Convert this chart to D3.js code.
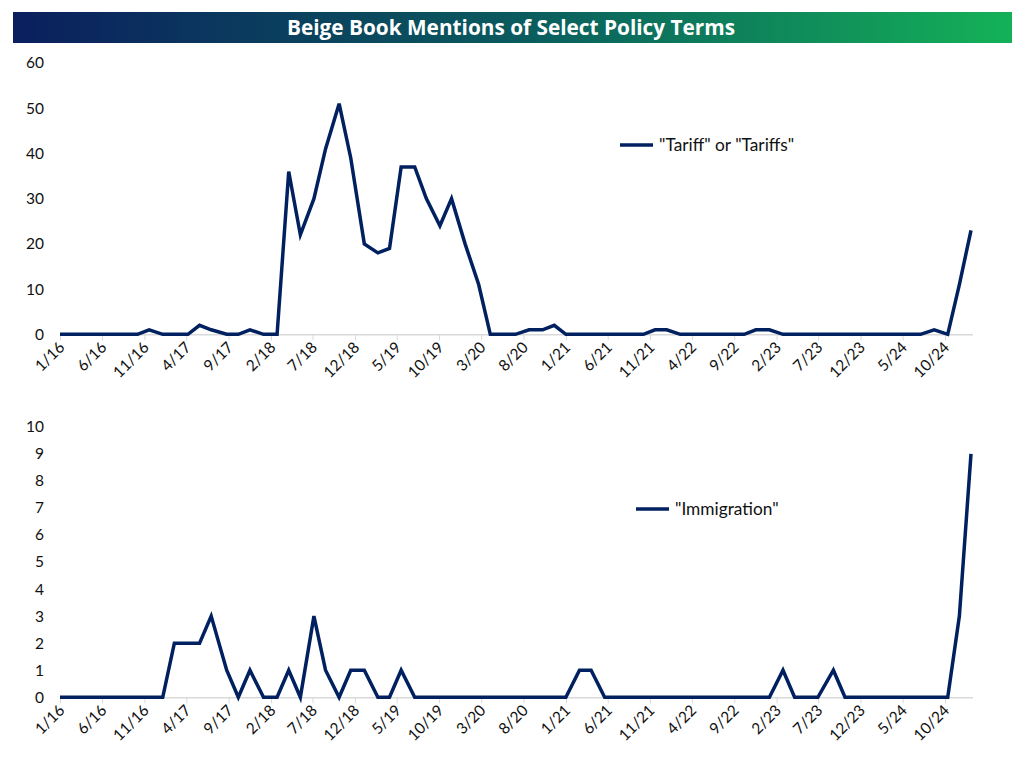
<!DOCTYPE html>
<html>
<head>
<meta charset="utf-8">
<script src="https://cdn.jsdelivr.net/npm/d3@7"></script>
<style>
  html, body { margin: 0; padding: 0; background: #fff; }
  svg { display: block; }
  text { font-family: Lato, "Open Sans", sans-serif; fill: #111; }
</style>
</head>
<body>
<div id="chart"></div>
<script>
// Beige Book release dates (Jan 2016 - Jan 2025)
const releaseDates = [
  "2016-01-13","2016-03-02","2016-04-13","2016-06-01","2016-07-13","2016-08-31","2016-10-19","2016-11-30",
  "2017-01-18","2017-03-01","2017-04-19","2017-05-31","2017-07-12","2017-09-06","2017-10-18","2017-11-29",
  "2018-01-17","2018-03-07","2018-04-18","2018-05-30","2018-07-18","2018-08-29","2018-10-17","2018-11-28",
  "2019-01-16","2019-03-06","2019-04-17","2019-05-29","2019-07-17","2019-08-28","2019-10-16","2019-11-27",
  "2020-01-15","2020-03-04","2020-04-15","2020-05-27","2020-07-15","2020-09-02","2020-10-21","2020-12-02",
  "2021-01-13","2021-03-03","2021-04-14","2021-06-02","2021-07-14","2021-09-08","2021-10-20","2021-12-01",
  "2022-01-12","2022-03-02","2022-04-20","2022-06-01","2022-07-13","2022-09-07","2022-10-19","2022-11-30",
  "2023-01-18","2023-03-08","2023-04-19","2023-05-31","2023-07-12","2023-09-06","2023-10-18","2023-11-29",
  "2024-01-17","2024-03-06","2024-04-17","2024-05-29","2024-07-17","2024-09-04","2024-10-23","2024-12-04",
  "2025-01-15"
];

const tariffMentions = [
  0, 0, 0, 0, 0, 0, 0, 1,
  0, 0, 0, 2, 1, 0, 0, 1,
  0, 0, 36, 22, 30, 41, 51, 39,
  20, 18, 19, 37, 37, 30, 24, 30,
  20, 11, 0, 0, 0, 1, 1, 2,
  0, 0, 0, 0, 0, 0, 0, 1,
  1, 0, 0, 0, 0, 0, 0, 1,
  1, 0, 0, 0, 0, 0, 0, 0,
  0, 0, 0, 0, 0, 1, 0, 11,
  23
];

const immigrationMentions = [
  0, 0, 0, 0, 0, 0, 0, 0,
  0, 2, 2, 2, 3, 1, 0, 1,
  0, 0, 1, 0, 3, 1, 0, 1,
  1, 0, 0, 1, 0, 0, 0, 0,
  0, 0, 0, 0, 0, 0, 0, 0,
  0, 1, 1, 0, 0, 0, 0, 0,
  0, 0, 0, 0, 0, 0, 0, 0,
  0, 1, 0, 0, 0, 1, 0, 0,
  0, 0, 0, 0, 0, 0, 0, 3,
  9
];

const tickLabels = ["1/16","6/16","11/16","4/17","9/17","2/18","7/18","12/18","5/19","10/19","3/20",
  "8/20","1/21","6/21","11/21","4/22","9/22","2/23","7/23","12/23","5/24","10/24"];

const titleText = "Beige Book Mentions of Select Policy Terms";
const tariffLabel = "\"Tariff\" or \"Tariffs\"";
const immigrationLabel = "\"Immigration\"";

const width = 1024, height = 771;
const lineColor = "#002060";

const svg = d3.select("#chart").append("svg")
  .attr("width", width)
  .attr("height", height);

// title banner
const grad = svg.append("defs").append("linearGradient")
  .attr("id", "bannerGrad")
  .attr("x1", "0%").attr("x2", "100%").attr("y1", "0%").attr("y2", "0%");
grad.append("stop").attr("offset", "0%").attr("stop-color", "#0b1f5e");
grad.append("stop").attr("offset", "50%").attr("stop-color", "#0a5a5e");
grad.append("stop").attr("offset", "100%").attr("stop-color", "#14b158");

svg.append("rect")
  .attr("x", 13).attr("y", 12)
  .attr("width", 999).attr("height", 31)
  .attr("fill", "url(#bannerGrad)");

svg.append("text")
  .attr("x", 511).attr("y", 35)
  .attr("text-anchor", "middle")
  .attr("textLength", 448)
  .attr("lengthAdjust", "spacingAndGlyphs")
  .style("font-family", "'Liberation Sans Narrow', 'Open Sans', sans-serif")
  .style("font-size", "21px")
  .style("font-weight", "bold")
  .style("fill", "#fff")
  .text(titleText);

const dates = releaseDates.map(d => d3.timeParse("%Y-%m-%d")(d));
const tickDates = tickLabels.map(t => {
  const [m, y] = t.split("/").map(Number);
  return new Date(2000 + y, m - 1, 13);
});

const x = d3.scaleTime()
  .domain([dates[0], dates[dates.length - 1]])
  .range([60, 971]);

function drawPanel(values, yMax, yStep, y0, y1, legendText, legendX, legendY) {
  const y = d3.scaleLinear().domain([0, yMax]).range([y0, y1]);

  // y tick labels (no axis line)
  const yAxis = svg.append("g")
    .attr("transform", "translate(60,0)")
    .call(d3.axisLeft(y).tickValues(d3.range(0, yMax + 1, yStep)).tickSize(0).tickPadding(16));
  yAxis.select(".domain").remove();
  yAxis.selectAll("text")
    .style("font-family", "Lato, 'Open Sans', sans-serif")
    .style("font-size", "15.5px")
    .style("fill", "#111");

  // x axis
  const xAxis = svg.append("g")
    .attr("transform", `translate(0,${y0})`)
    .call(d3.axisBottom(x).tickValues(tickDates).tickSize(6).tickSizeOuter(0)
      .tickFormat((d, i) => tickLabels[i]));
  xAxis.select(".domain").attr("stroke", "#d9d9d9").attr("stroke-width", 1.5)
    .attr("d", `M60,0.5H973`);
  xAxis.selectAll(".tick line").attr("stroke", "#d9d9d9").attr("stroke-width", 1);
  xAxis.selectAll("text")
    .attr("text-anchor", "end")
    .attr("dy", null)
    .attr("y", 0)
    .attr("transform", "translate(5,14) rotate(-45)")
    .style("font-family", "Lato, 'Open Sans', sans-serif")
    .style("font-size", "15.5px")
    .style("fill", "#111");

  const line = d3.line()
    .x((d, i) => x(dates[i]))
    .y(d => y(d));

  svg.append("path")
    .datum(values)
    .attr("fill", "none")
    .attr("stroke", lineColor)
    .attr("stroke-width", 3.5)
    .attr("stroke-linejoin", "miter")
    .attr("d", line);

  // legend
  svg.append("line")
    .attr("x1", legendX).attr("x2", legendX + 33)
    .attr("y1", legendY).attr("y2", legendY)
    .attr("stroke", lineColor)
    .attr("stroke-width", 3.5);
  svg.append("text")
    .attr("x", legendX + 39).attr("y", legendY + 6)
    .style("font-family", "Lato, 'Open Sans', sans-serif")
    .style("font-size", "17.3px")
    .text(legendText);
}

drawPanel(tariffMentions, 60, 10, 334.3, 63, tariffLabel, 620, 145);
drawPanel(immigrationMentions, 10, 1, 697.3, 426.7, immigrationLabel, 636, 509);
</script>
</body>
</html>
